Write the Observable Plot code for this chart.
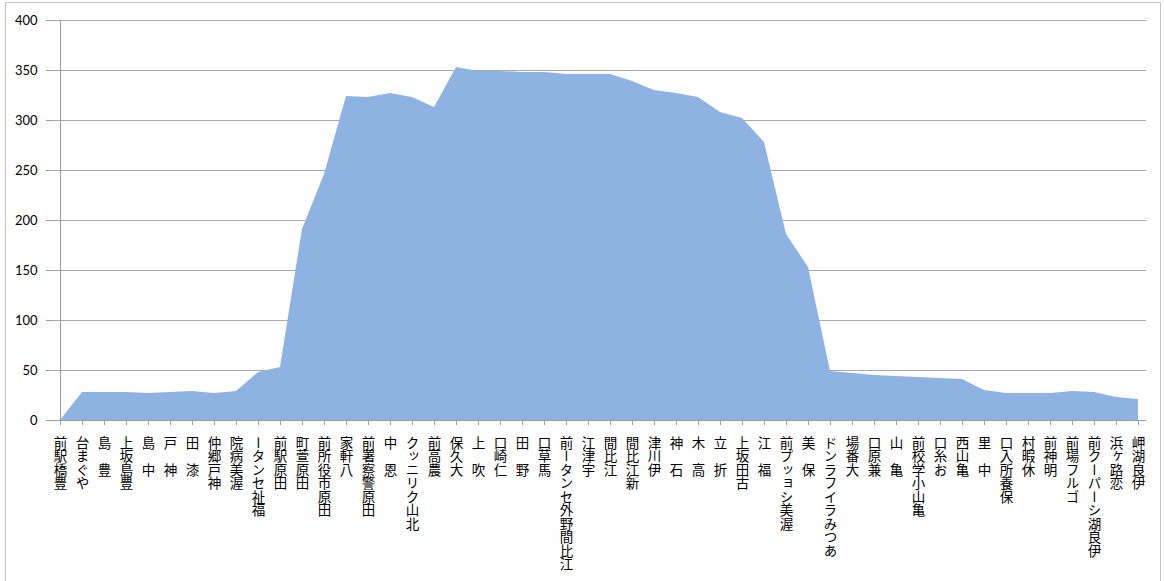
<!DOCTYPE html>
<html>
<head>
<meta charset="utf-8">
<script src="https://cdn.jsdelivr.net/npm/d3@7"></script>
<script src="https://cdn.jsdelivr.net/npm/@observablehq/plot@0.6"></script>
<style>
  html, body { margin: 0; padding: 0; background: #fff; }
  #wrap { position: relative; width: 1165px; height: 581px; overflow: hidden; }
  #frame { position: absolute; left: 5px; top: 2px; width: 1156px; height: 640px;
           border: 1.5px solid #C4C4C4; pointer-events: none; box-sizing: border-box; }
  #wrap svg { position: absolute; left: 0; top: 0; }
</style>
</head>
<body>
<div id="wrap"><div id="frame"></div></div>
<script>
// Bus stops along the route, in order
const stations = [
  "豊橋駅前", "やぐま台", "豊　島", "豊島坂上", "中　島", "神　戸", "漆　田", "神戸郷仲",
  "渥美病院", "福祉センター", "田原駅前", "田原萱町", "田原市役所前", "八軒家", "田原警察署前",
  "恩　中", "北山クリニック", "農高前", "大久保", "吹　上", "仁崎口", "野　田", "馬草口",
  "江比間野外センター前", "宇津江", "江比間", "新江比間", "伊川津", "石　神", "高　木",
  "折　立", "古田坂上", "福　江", "渥美ショップ前", "保　美", "あつみライフランド", "大番場",
  "兼原口", "亀　山", "亀山小学校前", "お糸口", "亀山西", "中　里", "保養所入口", "休暇村",
  "明神前", "ゴルフ場前", "伊良湖シーパーク前", "恋路ヶ浜", "伊良湖岬"
];

// Passengers on board after each stop
const riders = [
  0, 28, 28, 28, 27, 28, 29, 27,
  29, 48, 53, 191, 246, 324, 323,
  327, 323, 313, 353, 349, 349, 348, 348,
  346, 346, 346, 339, 330, 327, 323,
  308, 302, 278, 186, 153, 49, 47,
  45, 44, 43, 42, 41, 30, 27, 27,
  27, 29, 28, 23, 21
];

const yTicks = [0, 50, 100, 150, 200, 250, 300, 350, 400];

const data = stations.map((s, i) => ({ station: s, value: riders[i] }));

const axisGray = "#9C9C9C";

const chart = Plot.plot({
  width: 1165,
  height: 581,
  marginLeft: 51,
  marginRight: 19,
  marginTop: 20,
  marginBottom: 161,
  style: { background: "transparent", color: "#000", overflow: "visible" },
  x: { type: "point", domain: stations, padding: 0, label: null },
  y: { domain: [0, 400], label: null },
  marks: [
    Plot.ruleY(yTicks.slice(1), { stroke: "#A8A8A8", strokeWidth: 1 }),
    Plot.areaY(data, { x: "station", y: "value", fill: "#8EB3E2", curve: "linear" }),
    Plot.ruleY([0], { stroke: axisGray }),
    Plot.ruleX([stations[0]], { stroke: axisGray }),
    Plot.axisY({ ticks: yTicks, tickSize: 5, tickPadding: 9, stroke: axisGray,
                 fontSize: 13, fontFamily: "Lato", label: null }),
    Plot.axisX({ tickSize: 5, tickPadding: 1, stroke: axisGray,
                 fontSize: 13.5, fontFamily: "Noto Sans CJK JP", label: null })
  ]
});

const svg = d3.select(chart);
svg.selectAll('g[aria-label="y-axis tick label"]')
  .attr("font-family", "Lato").attr("font-size", 13);
svg.selectAll('g[aria-label="x-axis tick label"]')
  .attr("font-family", "'Noto Sans CJK JP'").attr("font-size", 13.5);
// Station names: upright glyphs, read from bottom to top, hanging from the axis
svg.selectAll('g[aria-label="x-axis tick label"] text')
  .attr("dy", null)
  .attr("writing-mode", "vertical-rl")
  .attr("direction", "rtl")
  .attr("unicode-bidi", "bidi-override")
  .attr("text-anchor", "end");

document.getElementById("wrap").appendChild(chart);
</script>
</body>
</html>
